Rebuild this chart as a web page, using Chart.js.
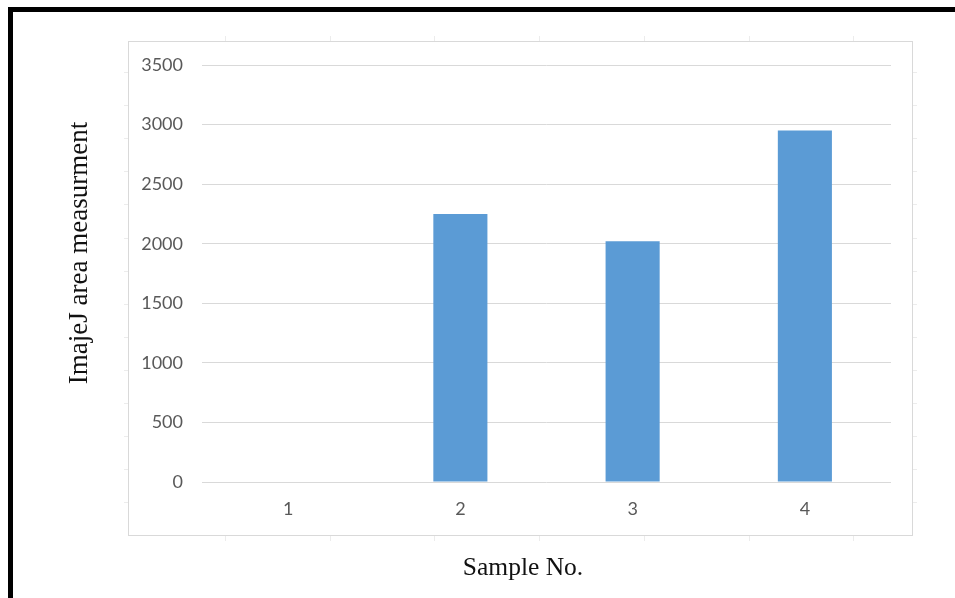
<!DOCTYPE html>
<html>
<head>
<meta charset="utf-8">
<script src="https://cdn.jsdelivr.net/npm/chart.js@4.4.1/dist/chart.umd.min.js"></script>
<style>
  html, body { margin: 0; padding: 0; background: #fff; }
  #wrap { width: 955px; height: 598px; position: relative; }
</style>
</head>
<body>
<div id="wrap"><canvas id="chart" width="955" height="598"></canvas></div>
<script>
// Dados do gráfico
const categories = ['1', '2', '3', '4'];
const areaValues = [0, 2250, 2020, 2950];
const yTicks = [0, 500, 1000, 1500, 2000, 2500, 3000, 3500];

const yTitle = 'ImajeJ area measurment';
const xTitle = 'Sample No.';

// Moldura, bordas pretas e títulos dos eixos
const framePlugin = {
    id: 'frame',
    beforeDraw(chart) {
        const ctx = chart.ctx;
        ctx.save();
        ctx.fillStyle = '#fff';
        ctx.fillRect(0, 0, chart.width, chart.height);

        // borda preta (esquerda e topo)
        ctx.fillStyle = '#000';
        ctx.fillRect(8, 7, 5, chart.height - 7);
        ctx.fillRect(8, 7, chart.width - 8, 5);

        // caixa cinza
        ctx.strokeStyle = '#D9D9D9';
        ctx.lineWidth = 1;
        ctx.strokeRect(128.5, 41.5, 784, 494);

        // marquinhas fracas da moldura
        ctx.strokeStyle = '#ECECEC';
        ctx.beginPath();
        for (let k = 0; k < 7; k++) {
            const x = Math.round(225 + k * 104.7) + 0.5;
            ctx.moveTo(x, 41); ctx.lineTo(x, 36);
            ctx.moveTo(x, 536); ctx.lineTo(x, 541);
        }
        for (let k = 0; k < 14; k++) {
            const y = Math.round(72 + k * 33.1) + 0.5;
            ctx.moveTo(128, y); ctx.lineTo(124, y);
            ctx.moveTo(913, y); ctx.lineTo(917, y);
        }
        ctx.stroke();
        ctx.restore();
    },
    afterDraw(chart) {
        const ctx = chart.ctx;
        ctx.save();
        ctx.fillStyle = '#111';
        ctx.textAlign = 'center';
        ctx.textBaseline = 'middle';
        ctx.font = '25.5px "Liberation Serif", "Times New Roman", serif';
        ctx.fillText(xTitle, 523, 568);
        ctx.translate(80, 253);
        ctx.rotate(-Math.PI / 2);
        ctx.font = '27px "Liberation Serif", "Times New Roman", serif';
        ctx.fillText(yTitle, 0, 0);
        ctx.restore();
    }
};

new Chart(document.getElementById('chart'), {
    type: 'bar',
    data: {
        labels: categories,
        datasets: [{
            data: areaValues,
            backgroundColor: '#5B9BD5',
            borderWidth: 0,
            categoryPercentage: 0.314,
            barPercentage: 1
        }]
    },
    options: {
        responsive: false,
        animation: false,
        layout: { padding: { left: 100, right: 64, top: 65, bottom: 0 } },
        plugins: {
            legend: { display: false },
            tooltip: { enabled: false }
        },
        scales: {
            x: {
                grid: { display: false, drawTicks: false },
                border: { display: false },
                ticks: {
                    color: '#595959',
                    font: { family: 'Lato', size: 18 },
                    padding: 16
                },
                afterFit(scale) { scale.height = 116; }
            },
            y: {
                min: 0,
                max: 3500,
                afterBuildTicks(scale) {
                    scale.ticks = yTicks.map(v => ({ value: v }));
                },
                grid: { color: '#D9D9D9', lineWidth: 1, drawTicks: false },
                border: { display: false },
                ticks: {
                    color: '#595959',
                    font: { family: 'Lato', size: 18 },
                    padding: 19,
                    callback: v => String(v)
                },
                afterFit(scale) { scale.width = 102; }
            }
        }
    },
    plugins: [framePlugin]
});
</script>
</body>
</html>
